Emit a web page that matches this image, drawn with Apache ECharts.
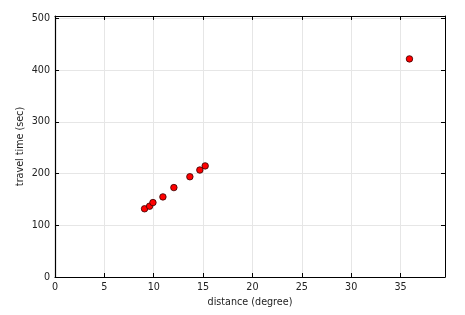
<!DOCTYPE html>
<html><head><meta charset="utf-8">
<script src="https://cdn.jsdelivr.net/npm/echarts@6/dist/echarts.min.js"></script>
<style>html,body{margin:0;padding:0;background:#fff}#c{width:465px;height:315px}</style>
</head><body><div id="c"></div>
<script>
const distance = [9.07, 9.58, 9.92, 10.93, 12.04, 13.66, 14.67, 15.21, 35.9];
const travelTime = [132, 137, 144, 155, 173, 194, 207, 215, 422];
const xTitle = 'distance (degree)';
const yTitle = 'travel time (sec)';

const font = 'DejaVu Sans';
const chart = echarts.init(document.getElementById('c'), null, {renderer: 'canvas'});
const hiddenAxis = {
  axisLine: {show: true, onZero: false, lineStyle: {color: '#000', width: 1}},
  axisTick: {show: true, inside: true, length: 4, lineStyle: {color: '#000'}},
  axisLabel: {show: false},
  splitLine: {show: false}
};
chart.setOption({
  animation: false,
  grid: {left: 55, right: 20, top: 16, bottom: 38, show: false},
  xAxis: [{
    type: 'value', min: 0, max: 39.5, interval: 5,
    name: xTitle, nameLocation: 'middle', nameGap: 20,
    nameTextStyle: {fontFamily: font, fontSize: 9.6, color: '#222'},
    axisLine: {show: true, onZero: false, lineStyle: {color: '#000', width: 1.2}},
    axisTick: {show: true, inside: true, length: 4, lineStyle: {color: '#000'}},
    axisLabel: {fontFamily: font, fontSize: 9.6, color: '#222', margin: 5, showMaxLabel: false},
    splitLine: {show: true, lineStyle: {color: '#e6e6e6', width: 1}}
  }, Object.assign({type: 'value', position: 'top', min: 0, max: 39.5, interval: 5}, hiddenAxis)],
  yAxis: [{
    type: 'value', min: 0, max: 505, interval: 100,
    name: yTitle, nameLocation: 'middle', nameGap: 30, nameMoveOverlap: false,
    nameTextStyle: {fontFamily: font, fontSize: 9.6, color: '#222'},
    axisLine: {show: true, onZero: false, lineStyle: {color: '#000', width: 1.2}},
    axisTick: {show: true, inside: true, length: 4, lineStyle: {color: '#000'}},
    axisLabel: {fontFamily: font, fontSize: 9.6, color: '#222', margin: 5, showMaxLabel: false},
    splitLine: {show: true, lineStyle: {color: '#e6e6e6', width: 1}}
  }, Object.assign({type: 'value', position: 'right', min: 0, max: 505, interval: 100}, hiddenAxis)],
  series: [{
    type: 'scatter',
    data: distance.map((d, i) => [d, travelTime[i]]),
    symbol: 'circle', symbolSize: 6.5,
    itemStyle: {color: '#ff0000', borderColor: '#330000', borderWidth: 0.8, opacity: 1}
  }]
});
</script></body></html>
